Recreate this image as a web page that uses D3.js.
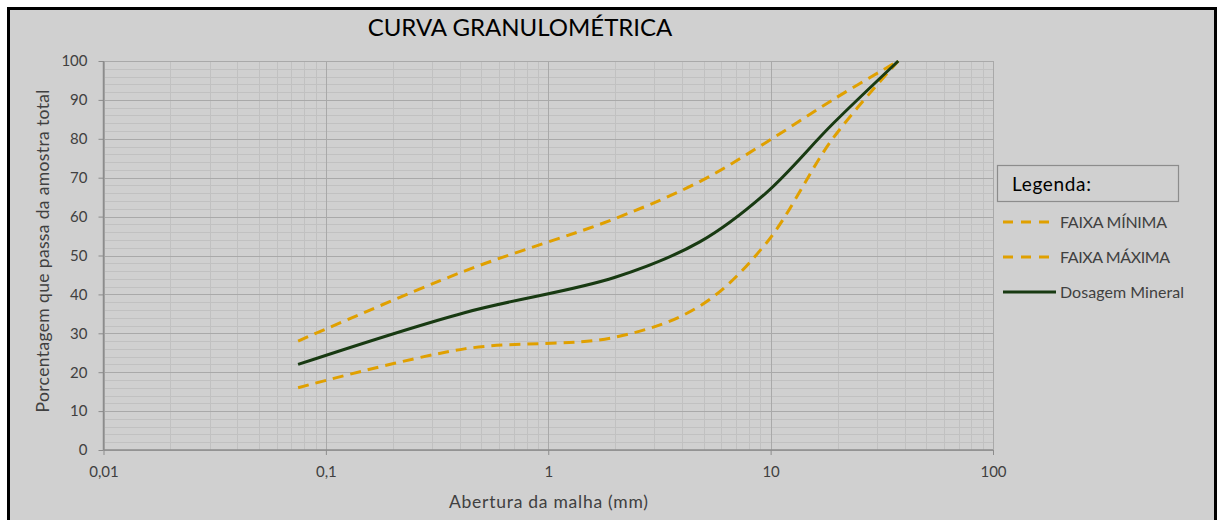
<!DOCTYPE html>
<html>
<head>
<meta charset="utf-8">
<script src="https://cdn.jsdelivr.net/npm/d3@7"></script>
<style>
  html, body { margin: 0; padding: 0; background: #ffffff; }
  svg { display: block; }
  text { font-family: Lato, "Open Sans", sans-serif; }
</style>
</head>
<body>
<svg id="chart" width="1219" height="520"></svg>
<script>
// Sieve openings (mm) and percentage passing for each curve
const sieves = [0.075, 0.42, 2.0, 4.8, 9.5, 19, 37.5];
const faixaMinima = [16, 26, 29, 37, 53, 80, 100];
const faixaMaxima = [28, 46, 59.5, 69, 79, 90, 100];
const dosagemMineral = [22, 35.3, 44.4, 53.5, 66, 83.8, 100];

const xTicks = [0.01, 0.1, 1, 10, 100];
const xTickLabels = ["0,01", "0,1", "1", "10", "100"];
const yTicks = [0, 10, 20, 30, 40, 50, 60, 70, 80, 90, 100];

const seriesNames = ["FAIXA MÍNIMA", "FAIXA MÁXIMA", "Dosagem Mineral"];

const W = 1219, H = 520;
const svg = d3.select("#chart");

// Chart frame
svg.append("rect").attr("x", 0).attr("y", 0).attr("width", W).attr("height", H).attr("fill", "#ffffff");
svg.append("rect")
  .attr("x", 8.5).attr("y", 8.5).attr("width", 1207).attr("height", 530)
  .attr("fill", "#d0d0d0").attr("stroke", "#000000").attr("stroke-width", 3);

const plot = { left: 103.5, right: 993, top: 61, bottom: 450 };

const x = d3.scaleLog().domain([0.01, 100]).range([plot.left, plot.right]);
const y = d3.scaleLinear().domain([0, 100]).range([plot.bottom, plot.top]);

const g = svg.append("g");

// Minor gridlines
const minorX = [];
for (let e = -2; e < 2; e++) {
  for (let m = 2; m <= 9; m++) minorX.push(m * Math.pow(10, e));
}
const minorY = d3.range(0, 101, 2).filter(v => v % 10 !== 0);

g.selectAll(".minor-x").data(minorX).enter().append("line")
  .attr("x1", d => Math.round(x(d)) + 0.5).attr("x2", d => Math.round(x(d)) + 0.5)
  .attr("y1", plot.top).attr("y2", plot.bottom)
  .attr("stroke", "#c1c1c1").attr("stroke-width", 1);
g.selectAll(".minor-y").data(minorY).enter().append("line")
  .attr("x1", plot.left).attr("x2", plot.right)
  .attr("y1", d => Math.round(y(d)) + 0.5).attr("y2", d => Math.round(y(d)) + 0.5)
  .attr("stroke", "#c1c1c1").attr("stroke-width", 1);

// Major gridlines
g.selectAll(".major-x").data(xTicks).enter().append("line")
  .attr("x1", d => Math.round(x(d)) + 0.5).attr("x2", d => Math.round(x(d)) + 0.5)
  .attr("y1", plot.top).attr("y2", plot.bottom)
  .attr("stroke", "#a9a9a9").attr("stroke-width", 1);
g.selectAll(".major-y").data(yTicks).enter().append("line")
  .attr("x1", plot.left).attr("x2", plot.right)
  .attr("y1", d => Math.round(y(d)) + 0.5).attr("y2", d => Math.round(y(d)) + 0.5)
  .attr("stroke", "#a9a9a9").attr("stroke-width", 1);

// Axes
const xAxis = d3.axisBottom(x).tickValues(xTicks)
  .tickFormat((d, i) => xTickLabels[i]).tickSize(5).tickPadding(11);
const yAxis = d3.axisLeft(y).tickValues(yTicks).tickSize(5).tickPadding(11);

const gx = svg.append("g").attr("transform", `translate(0,${plot.bottom})`).call(xAxis);
const gy = svg.append("g").attr("transform", `translate(${plot.left},0)`).call(yAxis);
[gx, gy].forEach(a => {
  a.select(".domain").attr("stroke", "#8c8c8c").attr("stroke-width", 1.5);
  a.selectAll(".tick line").attr("stroke", "#8c8c8c");
  a.selectAll(".tick text").attr("fill", "#404040").attr("font-size", 15)
    .style("font-family", "Lato, sans-serif");
});
gx.select(".domain").attr("d", `M${plot.left},0H${plot.right}`);
gy.select(".domain").attr("d", `M0,${plot.bottom}V${plot.top}`);

// Curves
const line = d3.line()
  .x(d => x(d[0])).y(d => y(d[1]))
  .curve(d3.curveCatmullRom.alpha(0.5));

const series = [
  { name: seriesNames[0], values: faixaMinima, color: "#e0a000", dash: "11,7", labelWidth: 107 },
  { name: seriesNames[1], values: faixaMaxima, color: "#e0a000", dash: "11,7", labelWidth: 110 },
  { name: seriesNames[2], values: dosagemMineral, color: "#183a12", dash: null, labelWidth: 124 }
];

series.forEach(s => {
  const path = svg.append("path")
    .datum(sieves.map((v, i) => [v, s.values[i]]))
    .attr("d", line)
    .attr("fill", "none")
    .attr("stroke", s.color)
    .attr("stroke-width", 3)
    .attr("stroke-linecap", "butt");
  if (s.dash) path.attr("stroke-dasharray", s.dash);
});

// Titles
svg.append("text")
  .attr("x", 520).attr("y", 36)
  .attr("text-anchor", "middle")
  .attr("font-size", 24)
  .attr("fill", "#000000")
  .text("CURVA GRANULOMÉTRICA");

svg.append("text")
  .attr("x", 548.5).attr("y", 508)
  .attr("text-anchor", "middle")
  .attr("font-size", 17.5)
  .attr("textLength", 199).attr("lengthAdjust", "spacing")
  .attr("fill", "#404040")
  .text("Abertura da malha (mm)");

svg.append("text")
  .attr("transform", "translate(49,251) rotate(-90)")
  .attr("text-anchor", "middle")
  .attr("font-size", 17.5)
  .attr("textLength", 323).attr("lengthAdjust", "spacing")
  .attr("fill", "#404040")
  .text("Porcentagem que passa da amostra total");

// Legend
const legend = svg.append("g");
legend.append("rect")
  .attr("x", 997.5).attr("y", 165.5).attr("width", 181).attr("height", 36)
  .attr("fill", "#d0d0d0").attr("stroke", "#8c8c8c").attr("stroke-width", 1.2);
legend.append("text")
  .attr("x", 1012).attr("y", 191)
  .attr("font-size", 19).attr("fill", "#000000")
  .attr("textLength", 79).attr("lengthAdjust", "spacing")
  .text("Legenda:");

const legendY = [222, 257, 292];
series.forEach((s, i) => {
  const ln = legend.append("line")
    .attr("x1", 1003).attr("x2", 1056)
    .attr("y1", legendY[i]).attr("y2", legendY[i])
    .attr("stroke", s.color).attr("stroke-width", 3);
  if (s.dash) ln.attr("stroke-dasharray", "10,8");
  legend.append("text")
    .attr("x", 1060).attr("y", legendY[i] + 5.5)
    .attr("font-size", 16).attr("fill", "#404040")
    .attr("textLength", s.labelWidth).attr("lengthAdjust", "spacing")
    .text(s.name);
});
</script>
</body>
</html>
